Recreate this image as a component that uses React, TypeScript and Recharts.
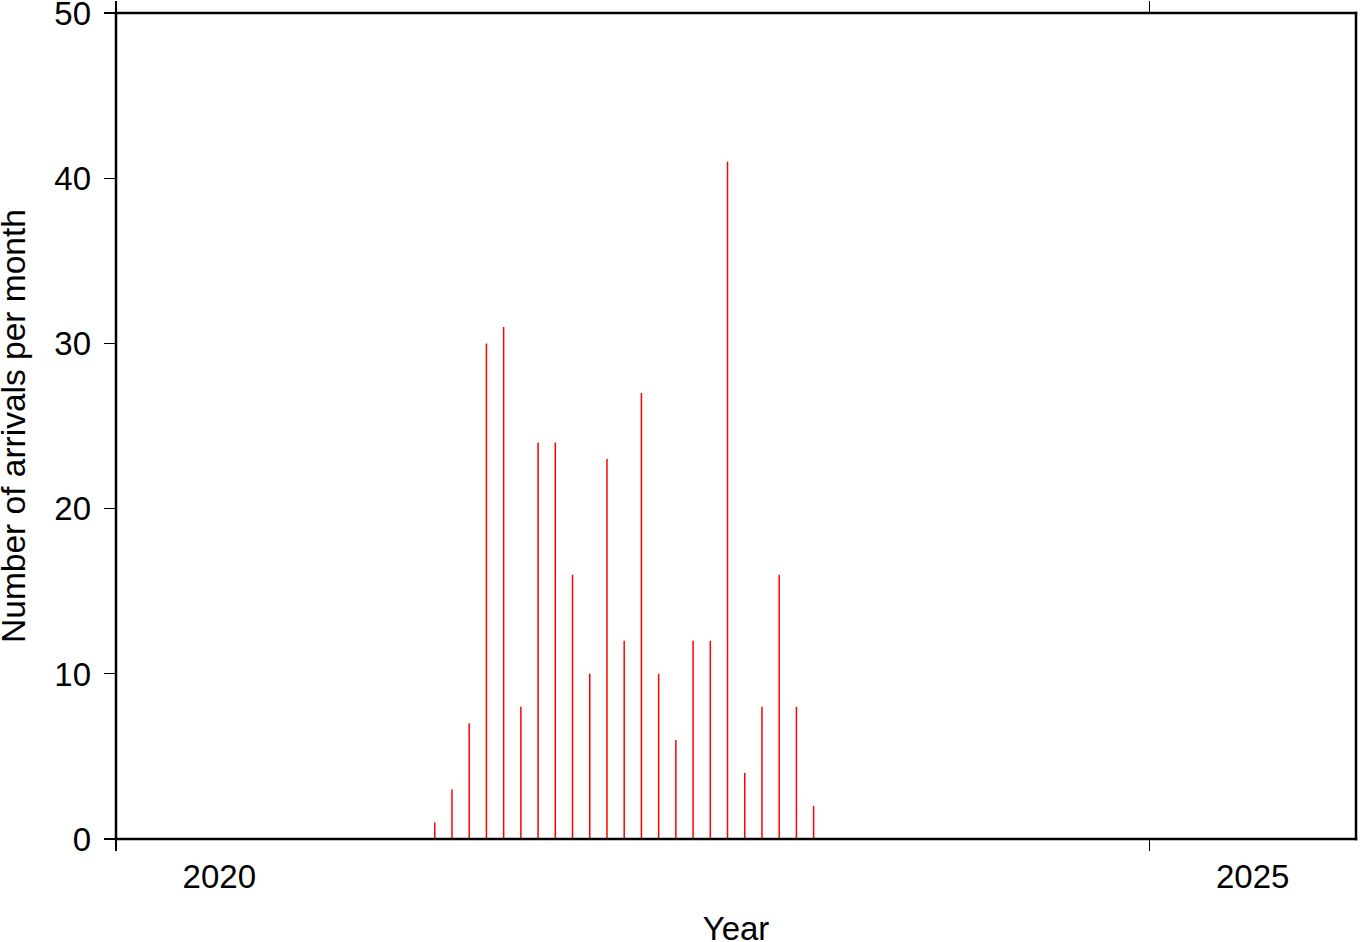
import { Bar, ComposedChart, XAxis, YAxis } from "recharts";

// Monthly arrival counts
const months = [
  "2021-07", "2021-08", "2021-09", "2021-10", "2021-11", "2021-12",
  "2022-01", "2022-02", "2022-03", "2022-04", "2022-05", "2022-06",
  "2022-07", "2022-08", "2022-09", "2022-10", "2022-11", "2022-12",
  "2023-01", "2023-02", "2023-03", "2023-04", "2023-05",
];
const arrivals = [1, 3, 7, 30, 31, 8, 24, 24, 16, 10, 23, 12, 27, 10, 6, 12, 12, 41, 4, 8, 16, 8, 2];

const yearDomain = [2020, 2026];
const yearTicks = [2020, 2025];
const yearLabelTicks = [2020.5, 2025.5];
const countTicks = [0, 10, 20, 30, 40, 50];

const FONT = '"Liberation Sans", Arial, Helvetica, sans-serif';
const frame = { stroke: "#000", strokeWidth: 2.5, strokeLinecap: "square" as const };
const tickLine = { stroke: "#000", strokeWidth: 1.2, shapeRendering: "crispEdges" };
const tickText = { fontSize: 33, fill: "#000", fontFamily: FONT };
const noLabel = () => "";

// place each count in the middle of its month
const data = months.map((m, i) => {
  const [year, month] = m.split("-").map(Number);
  return { t: year + (month - 0.5) / 12, count: arrivals[i] };
});

export default function App() {
  return (
    <div style={{ position: "absolute", left: 0, top: 0, background: "#fff", fontFamily: FONT }}>
      <ComposedChart width={1369} height={942} data={data} margin={{ top: 0, right: 0, bottom: 0, left: 0 }}>
        <XAxis
          xAxisId={0}
          dataKey="t"
          type="number"
          domain={yearDomain}
          allowDataOverflow
          ticks={yearTicks}
          tickFormatter={noLabel}
          tickSize={12}
          tickLine={tickLine}
          axisLine={frame}
          stroke="#000"
          strokeWidth={2.5}
          height={1}
        />
        <XAxis
          xAxisId={1}
          dataKey="t"
          type="number"
          domain={yearDomain}
          allowDataOverflow
          ticks={yearLabelTicks}
          tickFormatter={(v: number) => String(Math.floor(v))}
          tick={tickText}
          tickLine={false}
          axisLine={false}
          tickSize={0}
          tickMargin={25}
          height={102}
          label={{ value: "Year", position: "insideBottom", offset: 2, style: { ...tickText } }}
        />
        <XAxis
          xAxisId={2}
          orientation="top"
          dataKey="t"
          type="number"
          domain={yearDomain}
          allowDataOverflow
          ticks={yearTicks}
          tickFormatter={noLabel}
          tickSize={12}
          tickLine={tickLine}
          axisLine={frame}
          stroke="#000"
          strokeWidth={2.5}
          height={13}
        />
        <YAxis
          yAxisId={0}
          type="number"
          domain={[0, 50]}
          ticks={countTicks}
          interval={0}
          tick={tickText}
          tickSize={12}
          tickMargin={13}
          tickLine={tickLine}
          axisLine={frame}
          stroke="#000"
          strokeWidth={2.5}
          width={116}
          label={{
            value: "Number of arrivals per month",
            angle: -90,
            position: "insideLeft",
            offset: 13,
            style: { ...tickText, fontSize: 33.5, textAnchor: "middle" },
          }}
        />
        <YAxis
          yAxisId={1}
          orientation="right"
          type="number"
          domain={[0, 50]}
          ticks={countTicks}
          interval={0}
          tickFormatter={noLabel}
          tickSize={12}
          tickLine={tickLine}
          axisLine={frame}
          stroke="#000"
          strokeWidth={2.5}
          width={13}
        />
        <Bar
          xAxisId={0}
          yAxisId={0}
          dataKey="count"
          fill="#ff0000"
          barSize={1.5}
          isAnimationActive={false}
        />
      </ComposedChart>
    </div>
  );
}
